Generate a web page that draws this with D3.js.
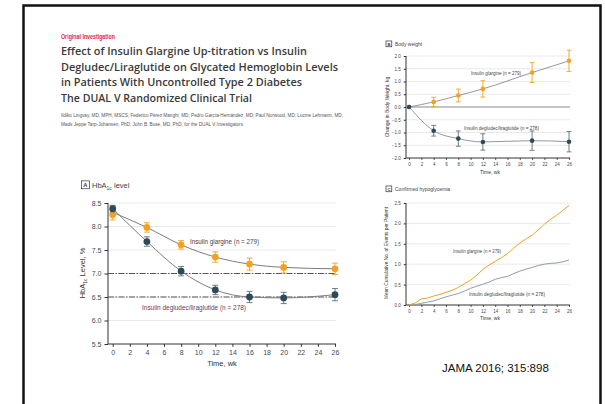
<!DOCTYPE html>
<html>
<head>
<meta charset="utf-8">
<script src="https://cdn.jsdelivr.net/npm/d3@7"></script>
<style>
  body { margin: 0; background: #fff; }
  svg { display: block; }
</style>
</head>
<body>
<script>
// week points for panels A and B
var weeksA = [0, 4, 8, 12, 16, 20, 26];
var hbaGlargine = [8.25, 7.98, 7.61, 7.35, 7.2, 7.13, 7.1];
var hbaGlargineErr = [0.11, 0.1, 0.09, 0.11, 0.13, 0.12, 0.12];
var hbaDeglira = [8.38, 7.68, 7.05, 6.65, 6.5, 6.48, 6.55];
var hbaDegliraErr = [0.07, 0.1, 0.1, 0.1, 0.12, 0.12, 0.13];
// fitted gray curve for glargine starts a bit above the first mean
var hbaGlargineFit = [8.3, 7.98, 7.61, 7.35, 7.2, 7.13, 7.1];

var weeksB = [0, 4, 8, 12, 20, 26];
var wtGlargine = [0, 0.2, 0.45, 0.71, 1.35, 1.81];
var wtGlargineErr = [0, 0.18, 0.25, 0.32, 0.39, 0.42];
var wtDeglira = [0, -0.93, -1.24, -1.37, -1.32, -1.36];
var wtDegliraErr = [0, 0.21, 0.3, 0.32, 0.38, 0.4];

var weeksC = d3.range(0, 27);
var hypoGlargine = [0, 0.05, 0.15, 0.17, 0.22, 0.26, 0.31, 0.36, 0.43, 0.52, 0.61, 0.73, 0.87, 0.98,
  1.07, 1.16, 1.26, 1.39, 1.52, 1.62, 1.71, 1.84, 1.98, 2.1, 2.2, 2.32, 2.44];
var hypoDeglira = [0, 0.01, 0.04, 0.07, 0.1, 0.15, 0.2, 0.24, 0.28, 0.34, 0.41, 0.46, 0.51, 0.56,
  0.63, 0.67, 0.7, 0.77, 0.83, 0.88, 0.92, 0.97, 1.0, 1.02, 1.03, 1.06, 1.1];

var xTicks = d3.range(0, 27, 2);
var ticksA = [5.5, 6.0, 6.5, 7.0, 7.5, 8.0, 8.5];
var ticksB = [-2, -1.5, -1, -0.5, 0, 0.5, 1, 1.5, 2];
var ticksC = [0, 0.5, 1, 1.5, 2, 2.5];

var orange = "#f4a024";
var teal = "#2d4b56";
var tealBar = "#5b7380";
var grayLine = "#7d7d7d";
var tickCol = "#3c4a5c";
var font = "'Liberation Sans Narrow', 'Liberation Sans', sans-serif";

var svg = d3.select("body").append("svg")
  .attr("width", 605)
  .attr("height", 404)
  .style("font-family", font);

// slide frame
svg.append("path")
  .attr("d", "M23.5,404 L23.5,5.5 L600.5,5.5 L600.5,404")
  .attr("fill", "none")
  .attr("stroke", "#111")
  .attr("stroke-width", 2.5);

// header
svg.append("text").attr("x", 61).attr("y", 39)
  .text("Original Investigation")
  .attr("fill", "#e2264d").attr("font-size", 6.5).attr("font-weight", "bold")
  .attr("textLength", 54).attr("lengthAdjust", "spacingAndGlyphs");

var titleLines = [
  ["Effect of Insulin Glargine Up-titration vs Insulin", 246],
  ["Degludec/Liraglutide on Glycated Hemoglobin Levels", 277],
  ["in Patients With Uncontrolled Type 2 Diabetes", 241],
  ["The DUAL V Randomized Clinical Trial", 191]
];
titleLines.forEach(function(l, i) {
  svg.append("text")
    .attr("x", 61).attr("y", 55 + i * 15.5)
    .text(l[0])
    .attr("fill", "#3a3a3a")
    .attr("font-family", "'Open Sans', sans-serif")
    .attr("font-size", 11.4).attr("font-weight", 600)
    .attr("textLength", l[1]).attr("lengthAdjust", "spacingAndGlyphs");
});

var authors = [
  ["Ildiko Lingvay, MD, MPH, MSCS; Federico Pérez Manghi, MD; Pedro García-Hernández, MD; Paul Norwood, MD; Lucine Lehmann, MD;", 282],
  ["Mads Jeppe Tarp-Johansen, PhD; John B. Buse, MD, PhD; for the DUAL V Investigators", 182]
];
authors.forEach(function(l, i) {
  svg.append("text")
    .attr("x", 61).attr("y", 117 + i * 9)
    .text(l[0])
    .attr("fill", "#555").attr("font-size", 4.5)
    .attr("textLength", l[1]).attr("lengthAdjust", "spacingAndGlyphs");
});

svg.append("text").attr("x", 442).attr("y", 372)
  .text("JAMA 2016; 315:898")
  .attr("font-family", "'Liberation Sans', Arial, sans-serif")
  .attr("font-size", 11.5).attr("fill", "#111");

function panelLabel(x, y, letter, size) {
  svg.append("rect").attr("x", x).attr("y", y - size * 0.55)
    .attr("width", size * 1.05).attr("height", size * 1.05)
    .attr("fill", "none").attr("stroke", "#333").attr("stroke-width", 0.7);
  svg.append("text").attr("x", x + size * 0.52).attr("y", y + size * 0.32)
    .attr("text-anchor", "middle").attr("font-size", size * 0.75)
    .attr("font-weight", "bold").attr("fill", "#333").text(letter);
}

function drawAxes(x, y, yTicks, fs, fmt, gridSkip) {
  var g = svg.append("g");
  var x0 = x.range()[0], x1 = x(26) + 1;
  // gridlines
  g.selectAll(".grid").data(yTicks.filter(function(t) { return gridSkip.indexOf(t) < 0; }))
    .enter().append("line")
    .attr("x1", x0).attr("x2", x1)
    .attr("y1", function(d) { return y(d); }).attr("y2", function(d) { return y(d); })
    .attr("stroke", "#e3e3e3").attr("stroke-width", 0.8);
  var ya = d3.axisLeft(y).tickValues(yTicks).tickSize(fs * 0.5).tickFormat(fmt);
  var xa = d3.axisBottom(x).tickValues(xTicks).tickSize(fs * 0.4);
  var gy = g.append("g").attr("transform", "translate(" + x0 + ",0)").call(ya);
  var gx = g.append("g").attr("transform", "translate(0," + y.range()[0] + ")").call(xa);
  [gy, gx].forEach(function(a) {
    a.select(".domain").attr("stroke", "#333").attr("stroke-width", 1);
    a.selectAll(".tick line").attr("stroke", "#333");
    a.selectAll(".tick text").attr("font-size", fs).attr("fill", tickCol).attr("font-family", font);
  });
  gx.select(".domain").attr("d", "M" + x0 + ",0H" + x1);
  gy.select(".domain").attr("d", "M0," + y.range()[0] + "V" + y.range()[1]);
  return g;
}

function errorPoints(x, y, weeks, vals, errs, col, barCol, r, cap) {
  var g = svg.append("g");
  var d = weeks.map(function(w, i) { return { w: w, v: vals[i], e: errs[i] }; });
  var withErr = d.filter(function(p) { return p.e > 0; });
  g.selectAll(".eb").data(withErr).enter().append("path")
    .attr("d", function(p) {
      var cx = x(p.w), t = y(p.v + p.e), b = y(p.v - p.e);
      return "M" + (cx - cap) + "," + t + "H" + (cx + cap) + "M" + cx + "," + t + "V" + b +
        "M" + (cx - cap) + "," + b + "H" + (cx + cap);
    })
    .attr("stroke", barCol).attr("stroke-width", 0.9).attr("fill", "none");
  g.selectAll("circle").data(d).enter().append("circle")
    .attr("cx", function(p) { return x(p.w); })
    .attr("cy", function(p) { return y(p.v); })
    .attr("r", r).attr("fill", col);
}

function seriesLine(x, y, weeks, vals, col, w, curve) {
  var line = d3.line()
    .x(function(d, i) { return x(weeks[i]); })
    .y(function(d) { return y(d); })
    .curve(curve);
  svg.append("path").datum(vals).attr("d", line)
    .attr("fill", "none").attr("stroke", col).attr("stroke-width", w);
}

function label(x, y, text, size, col, width) {
  var t = svg.append("text").attr("x", x).attr("y", y)
    .attr("font-size", size).attr("fill", col).text(text);
  if (width) t.attr("textLength", width).attr("lengthAdjust", "spacingAndGlyphs");
}

// ---------- Panel A: HbA1c ----------
var xA = d3.scaleLinear().domain([-0.55, 26]).range([108, 335]);
var yA = d3.scaleLinear().domain([5.5, 8.5]).range([344, 203]);
drawAxes(xA, yA, ticksA, 7, d3.format(".1f"), [5.5]);
[7.0, 6.5].forEach(function(v) {
  svg.append("line").attr("x1", xA.range()[0]).attr("x2", xA(26) + 1)
    .attr("y1", yA(v)).attr("y2", yA(v))
    .attr("stroke", "#555").attr("stroke-width", 1)
    .attr("stroke-dasharray", "6,1.5,1.5,1.5");
});
seriesLine(xA, yA, weeksA, hbaGlargineFit, grayLine, 1, d3.curveMonotoneX);
seriesLine(xA, yA, weeksA, hbaDeglira, grayLine, 1, d3.curveMonotoneX);
errorPoints(xA, yA, weeksA, hbaGlargine, hbaGlargineErr, orange, orange, 3.4, 3);
errorPoints(xA, yA, weeksA, hbaDeglira, hbaDegliraErr, teal, tealBar, 3.4, 3);

label(190, 244, "Insulin glargine (n = 279)", 7.5, "#444", 69);
label(142, 310, "Insulin degludec/liraglutide (n = 278)", 7.5, "#6b3c5c", 104);

panelLabel(81.5, 185, "A", 7.5);
var tA = svg.append("text").attr("x", 92).attr("y", 188).attr("font-size", 7.5).attr("fill", "#444");
tA.append("tspan").text("HbA");
tA.append("tspan").text("1c").attr("font-size", 5).attr("dy", 1.8);
tA.append("tspan").text(" level").attr("dy", -1.8);

var yl = svg.append("text").attr("transform", "translate(85,273) rotate(-90)")
  .attr("text-anchor", "middle").attr("font-size", 7.5).attr("fill", "#333");
yl.append("tspan").text("HbA");
yl.append("tspan").text("1c").attr("font-size", 5).attr("dy", 1.8);
yl.append("tspan").text(" Level, %").attr("dy", -1.8);
svg.append("text").attr("x", 222).attr("y", 366).attr("text-anchor", "middle")
  .attr("font-size", 7.5).attr("fill", "#333").text("Time, wk");

// ---------- Panel B: body weight ----------
var xB = d3.scaleLinear().domain([-0.5, 26]).range([406, 569]);
var yB = d3.scaleLinear().domain([-2, 2]).range([158, 56]);
var fmtB = function(d) { return (d < 0 ? "\u2212" : "") + Math.abs(d).toFixed(1); };
drawAxes(xB, yB, ticksB, 4.5, fmtB, [-2, 0]);
svg.append("line").attr("x1", xB.range()[0]).attr("x2", xB(26) + 1)
  .attr("y1", yB(0)).attr("y2", yB(0))
  .attr("stroke", "#8a8a8a").attr("stroke-width", 1);
seriesLine(xB, yB, weeksB, wtGlargine, grayLine, 0.8, d3.curveMonotoneX);
seriesLine(xB, yB, weeksB, wtDeglira, grayLine, 0.8, d3.curveMonotoneX);
errorPoints(xB, yB, weeksB, wtGlargine, wtGlargineErr, orange, orange, 2.3, 2.4);
errorPoints(xB, yB, weeksB, wtDeglira, wtDegliraErr, teal, tealBar, 2.3, 2.4);

label(471, 75, "Insulin glargine (n = 279)", 5, "#444", 50);
label(464, 130, "Insulin degludec/liraglutide (n = 278)", 5, "#444", 75);
panelLabel(386, 44, "B", 5.5);
label(395, 46, "Body weight", 5, "#444");
svg.append("text").attr("transform", "translate(389,107) rotate(-90)")
  .attr("text-anchor", "middle").attr("font-size", 5).attr("fill", "#333")
  .text("Change in Body Weight, kg");
svg.append("text").attr("x", 490).attr("y", 174).attr("text-anchor", "middle")
  .attr("font-size", 5).attr("fill", "#333").text("Time, wk");

// ---------- Panel C: hypoglycemia ----------
var xC = d3.scaleLinear().domain([-0.5, 26]).range([406, 569]);
var yC = d3.scaleLinear().domain([0, 2.5]).range([305, 203]);
drawAxes(xC, yC, ticksC, 4.5, d3.format(".1f"), [0]);
seriesLine(xC, yC, weeksC, hypoDeglira, "#8e9ea6", 1, d3.curveLinear);
seriesLine(xC, yC, weeksC, hypoGlargine, orange, 1, d3.curveLinear);

label(453, 253, "Insulin glargine (n = 279)", 5, "#444", 48);
label(469, 296, "Insulin degludec/liraglutide (n = 278)", 5, "#444", 76);
panelLabel(386, 189, "C", 5.5);
label(395, 191, "Confirmed hypoglycemia", 5, "#444");
svg.append("text").attr("transform", "translate(388,253) rotate(-90)")
  .attr("text-anchor", "middle").attr("font-size", 4.8).attr("fill", "#333")
  .text("Mean Cumulative No. of Events per Patient");
svg.append("text").attr("x", 490).attr("y", 320).attr("text-anchor", "middle")
  .attr("font-size", 5).attr("fill", "#333").text("Time, wk");
</script>
</body>
</html>
